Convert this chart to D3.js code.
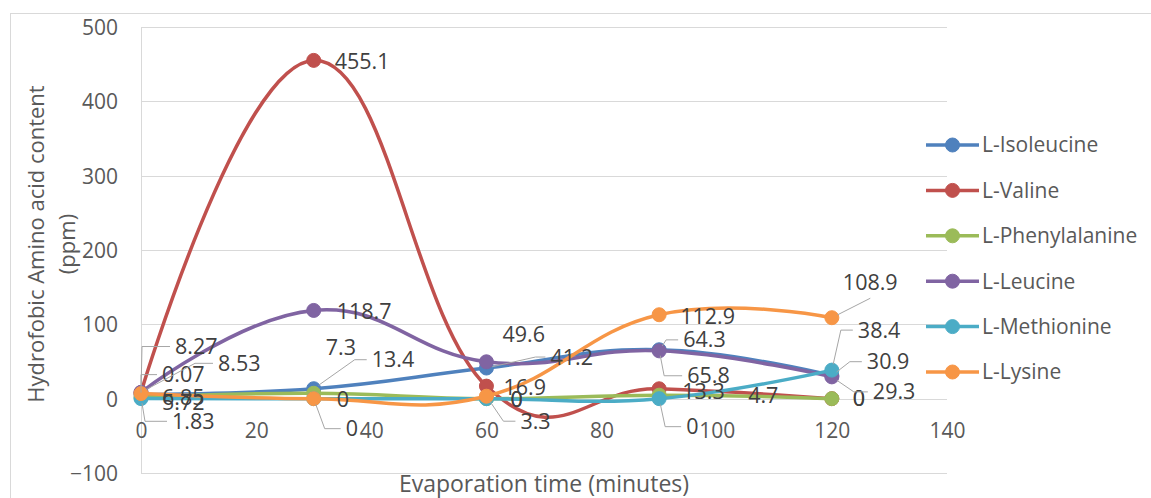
<!DOCTYPE html>
<html>
<head>
<meta charset="utf-8">
<script src="https://cdn.jsdelivr.net/npm/d3@7"></script>
<style>
  html, body { margin: 0; padding: 0; background: #fff; }
  svg { display: block; font-family: "Open Sans", "Noto Sans", sans-serif; }
</style>
</head>
<body>
<svg id="chart" width="1151" height="498"></svg>
<script>
// Sampling times (minutes)
const times = [0, 30, 60, 90, 120];

// Amino acid content (ppm) per series
const seriesNames = ["L-Isoleucine", "L-Valine", "L-Phenylalanine", "L-Leucine", "L-Methionine", "L-Lysine"];
const isoleucine    = [5.72, 13.4, 41.2, 65.8, 30.9];
const valine        = [8.27, 455.1, 16.9, 13.3, 0];
const phenylalanine = [1.83, 7.3, 0, 4.7, 0];
const leucine       = [8.53, 118.7, 49.6, 64.3, 29.3];
const methionine    = [0.07, 0, 0, 0, 38.4];
const lysine        = [6.85, 0, 3.3, 112.9, 108.9];
const seriesValues = [isoleucine, valine, phenylalanine, leucine, methionine, lysine];

// Axis ticks
const xTicks = [0, 20, 40, 60, 80, 100, 120, 140];
const yTicks = [-100, 0, 100, 200, 300, 400, 500];

// Axis titles
const xTitle = "Evaporation time (minutes)";
const yTitleLines = ["Hydrofobic Amino acid content", "(ppm)"];

// Office palette
const colors = ["#4F81BD", "#C0504D", "#9BBB59", "#8064A2", "#4BACC6", "#F79646"];

// Data-label placement: [dx, dy, leader] relative to the marker.
// leader: 0 = none, >0 = elbow leader with that horizontal run, -1 = leader to label bottom
const labelPlacement = [
  [[21, 8, 0], [58, -29, 12], [64, -11, 10], [28, 26, 18], [35, -14, 12]],
  [[34, -46, 28], [21, 1, 0], [17, 1, 0], [23, 3, 0], [21, 0, 0]],
  [[31, 24, 22], [12, -46, 0], [24, 1, 0], [89, 0, 0], [21, 0, 0]],
  [[77, -29, 18], [23, 1, 0], [16, -27, 0], [24, -11, 12], [41, 15, 14]],
  [[21, -24, 16], [32, 30, 16], [24, 1, 0], [27, 28, 16], [26, -40, 12]],
  [[21, 4, 0], [23, 1, 0], [34, 25, 12], [21, 2, 0], [11, -35, -1]]
];

const svg = d3.select("#chart");
const W = 1151, H = 498;

// Chart area frame
svg.append("rect")
  .attr("x", 10.5).attr("y", 13.5)
  .attr("width", W + 20).attr("height", H + 20)
  .attr("fill", "none").attr("stroke", "#D9D9D9").attr("stroke-width", 1);

const plot = { left: 141, right: 947, top: 27, bottom: 473 };

const x = d3.scaleLinear().domain([0, 140]).range([plot.left, plot.right]);
const y = d3.scaleLinear().domain([-100, 500]).range([plot.bottom, plot.top]);

// Horizontal gridlines
svg.append("g")
  .selectAll("line")
  .data(yTicks)
  .join("line")
  .attr("x1", plot.left).attr("x2", plot.right)
  .attr("y1", d => Math.round(y(d)) + 0.5).attr("y2", d => Math.round(y(d)) + 0.5)
  .attr("stroke", "#D9D9D9").attr("stroke-width", 1);

// Vertical axis line
svg.append("line")
  .attr("x1", plot.left + 0.5).attr("x2", plot.left + 0.5)
  .attr("y1", plot.top).attr("y2", plot.bottom)
  .attr("stroke", "#D9D9D9").attr("stroke-width", 1);

// Y tick labels
const yAxis = d3.axisLeft(y).tickValues(yTicks).tickSize(0).tickPadding(0);
const gy = svg.append("g").attr("transform", `translate(${plot.left - 23},0)`).call(yAxis);
gy.select(".domain").remove();
gy.selectAll("text")
  .attr("fill", "#595959").attr("font-size", 21)
  .attr("font-family", "'Open Sans', sans-serif")
  .attr("dy", "0.35em");

// X tick labels, hung below the zero line
const xAxis = d3.axisBottom(x).tickValues(xTicks).tickSize(0).tickPadding(0).tickFormat(d3.format("d"));
const gx = svg.append("g").attr("transform", `translate(0,${y(0)})`).call(xAxis);
gx.select(".domain").remove();
gx.selectAll("text")
  .attr("fill", "#595959").attr("font-size", 21)
  .attr("font-family", "'Open Sans', sans-serif")
  .attr("y", 39).attr("dy", 0);

// Axis titles
svg.append("text")
  .attr("x", (plot.left + plot.right) / 2 + 0).attr("y", 492)
  .attr("text-anchor", "middle")
  .attr("fill", "#595959").attr("font-size", 23)
  .text(xTitle);

const yt = svg.append("text")
  .attr("transform", "translate(0,244) rotate(-90)")
  .attr("text-anchor", "middle")
  .attr("fill", "#595959").attr("font-size", 22);
yTitleLines.forEach((line, i) => {
  yt.append("tspan").attr("x", 0).attr("y", 44 + i * 31).text(line);
});

// Smoothed series lines and markers
const lineGen = d3.line()
  .x(d => x(d[0]))
  .y(d => y(d[1]))
  .curve(d3.curveCardinal.tension(-0.28));

const seriesGroup = svg.append("g");
seriesValues.forEach((vals, s) => {
  const pts = times.map((t, i) => [t, vals[i]]);
  const g = seriesGroup.append("g");
  g.append("path")
    .attr("d", lineGen(pts))
    .attr("fill", "none")
    .attr("stroke", colors[s])
    .attr("stroke-width", 3.5)
    .attr("stroke-linejoin", "round")
    .attr("stroke-linecap", "round");
  g.selectAll("circle")
    .data(pts)
    .join("circle")
    .attr("cx", d => x(d[0]))
    .attr("cy", d => y(d[1]))
    .attr("r", 7)
    .attr("fill", colors[s])
    .attr("stroke", colors[s])
    .attr("stroke-width", 1);
});

// Data labels with leader lines
const labelGroup = svg.append("g");
const leaderGroup = svg.append("g");
seriesValues.forEach((vals, s) => {
  vals.forEach((v, i) => {
    const px = x(times[i]), py = y(v);
    const [dx, dy, lead] = labelPlacement[s][i];
    const lx = px + dx, ly = py + dy;
    const txt = labelGroup.append("text")
      .attr("x", lx).attr("y", ly)
      .attr("dy", "0.35em")
      .attr("fill", "#404040")
      .attr("font-size", 21.5)
      .text(String(v));
    if (lead > 0) {
      const ex = lx - 5, elx = ex - lead;
      const ang = Math.atan2(ly - py, elx - px);
      const sx = px + Math.cos(ang) * 6, sy = py + Math.sin(ang) * 6;
      leaderGroup.append("polyline")
        .attr("points", `${sx},${sy} ${elx},${ly} ${ex},${ly}`)
        .attr("fill", "none").attr("stroke", "#A6A6A6").attr("stroke-width", 1);
    } else if (lead < 0) {
      const bb = txt.node().getBBox();
      const ex = bb.x + bb.width / 2, ey = bb.y + bb.height + 2;
      const ang = Math.atan2(ey - py, ex - px);
      const sx = px + Math.cos(ang) * 6, sy = py + Math.sin(ang) * 6;
      leaderGroup.append("line")
        .attr("x1", sx).attr("y1", sy).attr("x2", ex).attr("y2", ey)
        .attr("stroke", "#A6A6A6").attr("stroke-width", 1);
    }
  });
});

// Legend
const legend = svg.append("g").attr("transform", "translate(926,145)");
seriesNames.forEach((name, s) => {
  const g = legend.append("g").attr("transform", `translate(0,${s * 45.4})`);
  g.append("line").attr("x1", 0).attr("x2", 53).attr("y1", 0).attr("y2", 0)
    .attr("stroke", colors[s]).attr("stroke-width", 3.5);
  g.append("circle").attr("cx", 26.5).attr("cy", 0).attr("r", 7)
    .attr("fill", colors[s]).attr("stroke", colors[s]);
  g.append("text").attr("x", 56).attr("y", 0).attr("dy", "0.35em")
    .attr("fill", "#595959").attr("font-size", 21).text(name);
});
</script>
</body>
</html>
